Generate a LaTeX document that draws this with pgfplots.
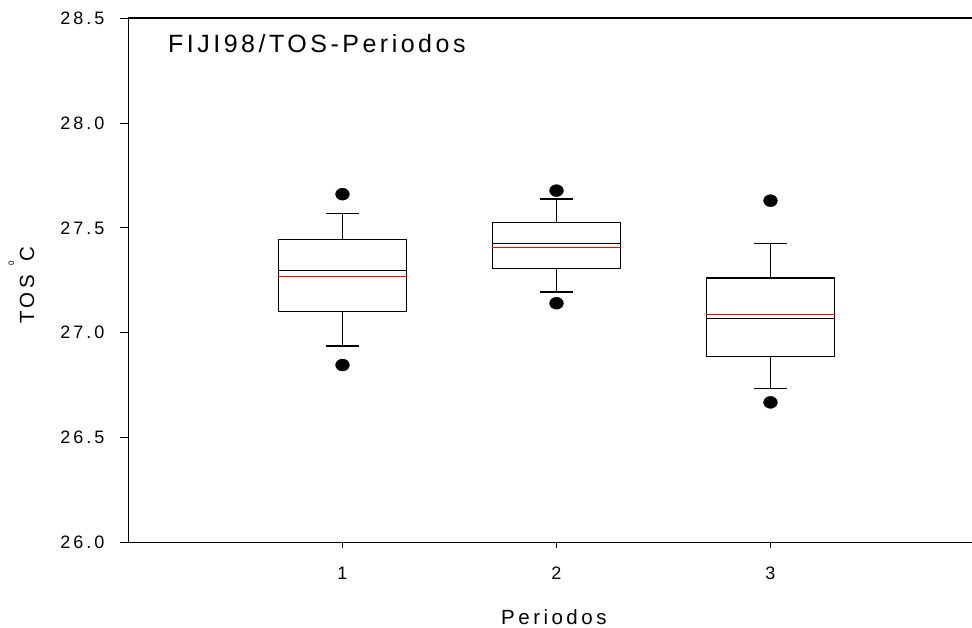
\documentclass[border=0pt]{standalone}
\usepackage{fontspec}
\setmainfont{Liberation Sans}[LetterSpace=17]
\usepackage{pgfplots}
\pgfplotsset{compat=1.18}
\begin{document}
\begin{tikzpicture}
\useasboundingbox (0,0) rectangle (972bp,628bp);
\begin{axis}[
  at={(128.5bp,85.6bp)}, anchor=south west,
  scale only axis, width=847.4bp, height=524.1bp,
  xmin=0, xmax=3.96, ymin=26, ymax=28.5,
  xtick={1,2,3}, ytick={26,26.5,27,27.5,28,28.5},
  tick pos=left, tick align=outside,
  major tick length=8.5bp,
  xtick style={/pgfplots/major tick length=6bp},
  axis line style={line width=1.7bp},
  tick style={line width=1bp, black},
  tick label style={font=\fontsize{18bp}{21bp}\selectfont},
  /pgf/number format/assume math mode=true,
  yticklabel style={xshift=-12bp, /pgf/number format/.cd, fixed, fixed zerofill, precision=1},
  xticklabel style={yshift=-13bp},
  xlabel={Periodos},
  ylabel={TOS \raisebox{20bp}{\fontsize{8bp}{9bp}\selectfont 0}C},
  label style={font=\fontsize{20.5bp}{24bp}\selectfont},
  xlabel style={at={(axis description cs:0.502,-0.1576)}, anchor=base},
  ylabel style={at={(axis description cs:-0.1115,0.491)}, anchor=base},
  unbounded coords=jump,
  box/.style={black, line width=1.4bp, line join=miter, no marks},
  outl/.style={only marks, mark=*, mark size=6bp, mark options={black, fill=black, xscale=1.15}},
]
% --- Period 1 ---
\addplot[box] coordinates {(0.7,27.101) (1.3,27.101) (1.3,27.446) (0.7,27.446) (0.7,27.101)} -- cycle;
\addplot[box] coordinates {(1,27.446) (1,27.568) (nan,nan) (0.9225,27.568) (1.0775,27.568) (nan,nan)
  (1,27.101) (1,26.936) (nan,nan) (0.9225,26.936) (1.0775,26.936) (nan,nan) (0.7,27.298) (1.3,27.298)};
\addplot[red, line width=1.3bp, no marks] coordinates {(0.7,27.270) (1.3,27.270)};
\addplot[outl] coordinates {(1,27.661) (1,26.846)};
% --- Period 2 ---
\addplot[box] coordinates {(1.7,27.306) (2.3,27.306) (2.3,27.525) (1.7,27.525) (1.7,27.306)} -- cycle;
\addplot[box] coordinates {(2,27.525) (2,27.638) (nan,nan) (1.9225,27.638) (2.0775,27.638) (nan,nan)
  (2,27.306) (2,27.195) (nan,nan) (1.9225,27.195) (2.0775,27.195) (nan,nan) (1.7,27.427) (2.3,27.427)};
\addplot[red, line width=1.3bp, no marks] coordinates {(1.7,27.406) (2.3,27.406)};
\addplot[outl] coordinates {(2,27.678) (2,27.141)};
% --- Period 3 ---
\addplot[box] coordinates {(2.7,26.886) (3.3,26.886) (3.3,27.261) (2.7,27.261) (2.7,26.886)} -- cycle;
\addplot[box] coordinates {(3,27.261) (3,27.427) (nan,nan) (2.9225,27.427) (3.0775,27.427) (nan,nan)
  (3,26.886) (3,26.733) (nan,nan) (2.9225,26.733) (3.0775,26.733) (nan,nan) (2.7,27.069) (3.3,27.069)};
\addplot[red, line width=1.3bp, no marks] coordinates {(2.7,27.088) (3.3,27.088)};
\addplot[outl] coordinates {(3,27.630) (3,26.668)};
\node[anchor=base west, inner sep=0pt, font=\fontsize{25bp}{30bp}\selectfont\addfontfeature{LetterSpace=14}] at (rel axis cs:0.0466,0.9338) {FIJI98/TOS-Periodos};
\end{axis}
\end{tikzpicture}
\end{document}
